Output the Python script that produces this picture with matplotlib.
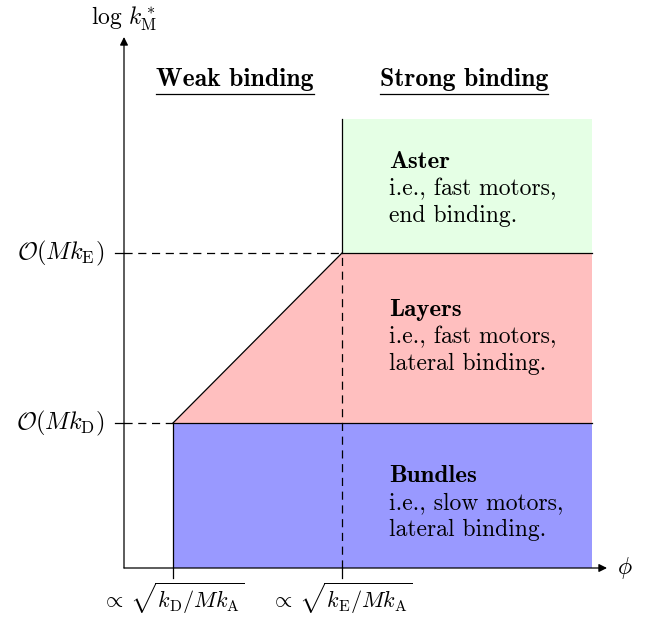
import matplotlib
matplotlib.use("Agg")
import matplotlib.pyplot as plt

plt.rcParams['mathtext.fontset'] = 'cm'

# phase boundaries (schematic units)
phi_D = 0.49      # ~ sqrt(kD / M kA)
phi_E = 2.18      # ~ sqrt(kE / M kA)
phi_max = 4.68
k_D = 1.45        # O(M kD)
k_E = 3.15        # O(M kE)
k_top = 4.49

regions = ['Bundles', 'Layers', 'Aster']
region_desc = [['i.e., slow motors,', 'lateral binding.'],
               ['i.e., fast motors,', 'lateral binding.'],
               ['i.e., fast motors,', 'end binding.']]
region_colors = ['#9999ff', '#ffbfbf', '#e5ffe5']
label_y = [0.86, 2.52, 4.00]

headers = ['Weak binding', 'Strong binding']
header_x = [1.11, 3.40]

xtick_labels = [r'$\propto\,\sqrt{k_{\mathrm{D}}/Mk_{\mathrm{A}}}$',
                r'$\propto\,\sqrt{k_{\mathrm{E}}/Mk_{\mathrm{A}}}$']
ytick_labels = [r'$\mathcal{O}(Mk_{\mathrm{D}})$', r'$\mathcal{O}(Mk_{\mathrm{E}})$']

fig = plt.figure(figsize=(6.47, 6.18), dpi=100)
ax = fig.add_axes([0, 0, 1, 1])
ax.set_xlim(-1.24, 5.23)
ax.set_ylim(-0.50, 5.68)
ax.axis('off')

# regions
ax.fill([phi_D, phi_max, phi_max, phi_D], [0, 0, k_D, k_D], color=region_colors[0], lw=0)
ax.fill([phi_D, phi_E, phi_max, phi_max], [k_D, k_E, k_E, k_D], color=region_colors[1], lw=0)
ax.fill([phi_E, phi_max, phi_max, phi_E], [k_E, k_E, k_top, k_top], color=region_colors[2], lw=0)

lw = 0.9
# solid boundaries
ax.plot([phi_D, phi_max], [k_D, k_D], color='k', lw=lw)
ax.plot([phi_E, phi_max], [k_E, k_E], color='k', lw=lw)
ax.plot([phi_D, phi_E], [k_D, k_E], color='k', lw=lw)
ax.plot([phi_D, phi_D], [-0.10, k_D], color='k', lw=lw)
ax.plot([phi_E, phi_E], [k_E, k_top], color='k', lw=lw)
ax.plot([phi_E, phi_E], [-0.10, 0.0], color='k', lw=lw)

# dashed guides
ds = (6.5, 4.5)
ax.plot([0, phi_D], [k_D, k_D], color='k', lw=lw, dashes=ds)
ax.plot([0, phi_E], [k_E, k_E], color='k', lw=lw, dashes=ds)
ax.plot([phi_E, phi_E], [0, k_E], color='k', lw=lw, dashes=ds)

# y ticks
for yv in [k_D, k_E]:
    ax.plot([-0.09, 0], [yv, yv], color='k', lw=lw)

# axes with arrows
ax.annotate('', xy=(4.83, 0), xytext=(0, 0),
            arrowprops=dict(arrowstyle='-|>', lw=lw, color='k', mutation_scale=12, shrinkA=0, shrinkB=0))
ax.annotate('', xy=(0, 5.31), xytext=(0, 0),
            arrowprops=dict(arrowstyle='-|>', lw=lw, color='k', mutation_scale=12, shrinkA=0, shrinkB=0))

ax.text(0.0, 5.43, r'$\log\,k^*_{\mathrm{M}}$', fontsize=17, ha='center', va='baseline')
ax.text(5.01, 0.0, r'$\phi$', fontsize=17, ha='center', va='center')

for xv, lab in zip([phi_D, phi_E], xtick_labels):
    ax.text(xv, -0.475, lab, fontsize=16, ha='center', va='bottom')
for yv, lab in zip([k_D, k_E], ytick_labels):
    ax.text(-0.195, yv, lab, fontsize=17.5, ha='right', va='center')

# headers (underlined)
r = fig.canvas.get_renderer()
for xc, lab in zip(header_x, headers):
    t = ax.text(xc, 4.82, lab, fontsize=18.5, family='cmb10', ha='center', va='baseline')
    bb = t.get_window_extent(renderer=r).transformed(ax.transData.inverted())
    ax.plot([bb.x0, bb.x1], [4.74, 4.74], color='k', lw=lw)

# region labels
for name, desc, yv in zip(regions, region_desc, label_y):
    ax.text(2.65, yv, name, fontsize=18, family='cmb10', ha='left', va='baseline')
    for i, line in enumerate(desc):
        ax.text(2.65, yv - 0.27 * (i + 1), line, fontsize=17, family='cmr10',
                ha='left', va='baseline')

fig.savefig('out.png', dpi=100)
